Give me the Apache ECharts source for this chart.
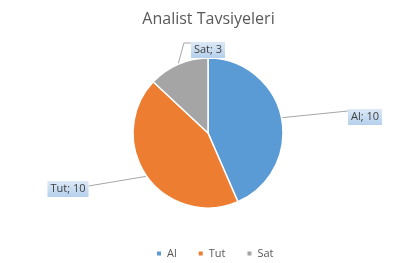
<!DOCTYPE html>
<html><head><meta charset="utf-8">
<script src="https://cdn.jsdelivr.net/npm/echarts@6/dist/echarts.min.js"></script>
<style>html,body{margin:0;padding:0;background:#fff}#c{width:417px;height:263px}</style>
</head><body><div id="c"></div>
<script>
const title = 'Analist Tavsiyeleri';
const categories = ['Al', 'Tut', 'Sat'];
const values = [10, 10, 3];
const colors = ['#5B9BD5', '#ED7D31', '#A5A5A5'];
const labelPos = [[365, 117], [68, 189], [208, 50]];

const chart = echarts.init(document.getElementById('c'));
chart.setOption({
  animation: false,
  color: colors,
  title: {text: title, left: 'center', top: 6,
    textStyle: {fontFamily: 'Open Sans', fontSize: 16, fontWeight: 'normal', color: '#595959'}},
  legend: {top: 243, left: 150, itemWidth: 6, itemHeight: 6, itemGap: 20, icon: 'rect',
    textStyle: {fontFamily: 'Open Sans', fontSize: 11, color: '#595959'},
    data: categories},
  series: [{
    type: 'pie', center: [208, 133], radius: 75, startAngle: 90, clockwise: true,
    itemStyle: {borderColor: '#fff', borderWidth: 1.5},
    data: categories.map((c, i) => ({name: c, value: values[i]})),
    label: {show: true, position: 'outside', formatter: '{b}; {c}',
      fontFamily: 'Open Sans', fontSize: 11, color: '#404040',
      padding: [3, 3, 2, 3],
      backgroundColor: {type: 'linear', x: 0, y: 0, x2: 0, y2: 1,
        colorStops: [{offset: 0, color: '#dce9f6'}, {offset: 1, color: '#b5d0ec'}]}},
    labelLine: {show: true, length: 10, length2: 10, lineStyle: {color: '#a6a6a6', width: 1}},
    labelLayout: function (p) {
      const pos = labelPos[p.dataIndex];
      const s = p.labelLinePoints ? p.labelLinePoints[0] : null;
      const w = p.labelRect.width, h = p.labelRect.height;
      let pts;
      if (s) {
        if (p.dataIndex === 0) {
          const e = [pos[0] - w / 2, pos[1] - 6];
          pts = [s, e, e];
        } else if (p.dataIndex === 1) {
          const e = [pos[0] + w / 2, pos[1] - 3];
          pts = [s, e, e];
        } else {
          const m = [pos[0] - w / 2 - 7, pos[1] - h / 2 + 1];
          const e = [pos[0] - w / 2, pos[1] - h / 2 + 1];
          pts = [s, m, e];
        }
      }
      const r = {x: pos[0], y: pos[1], align: 'center', verticalAlign: 'middle'};
      if (pts) r.labelLinePoints = pts;
      return r;
    }
  }]
});
</script></body></html>
